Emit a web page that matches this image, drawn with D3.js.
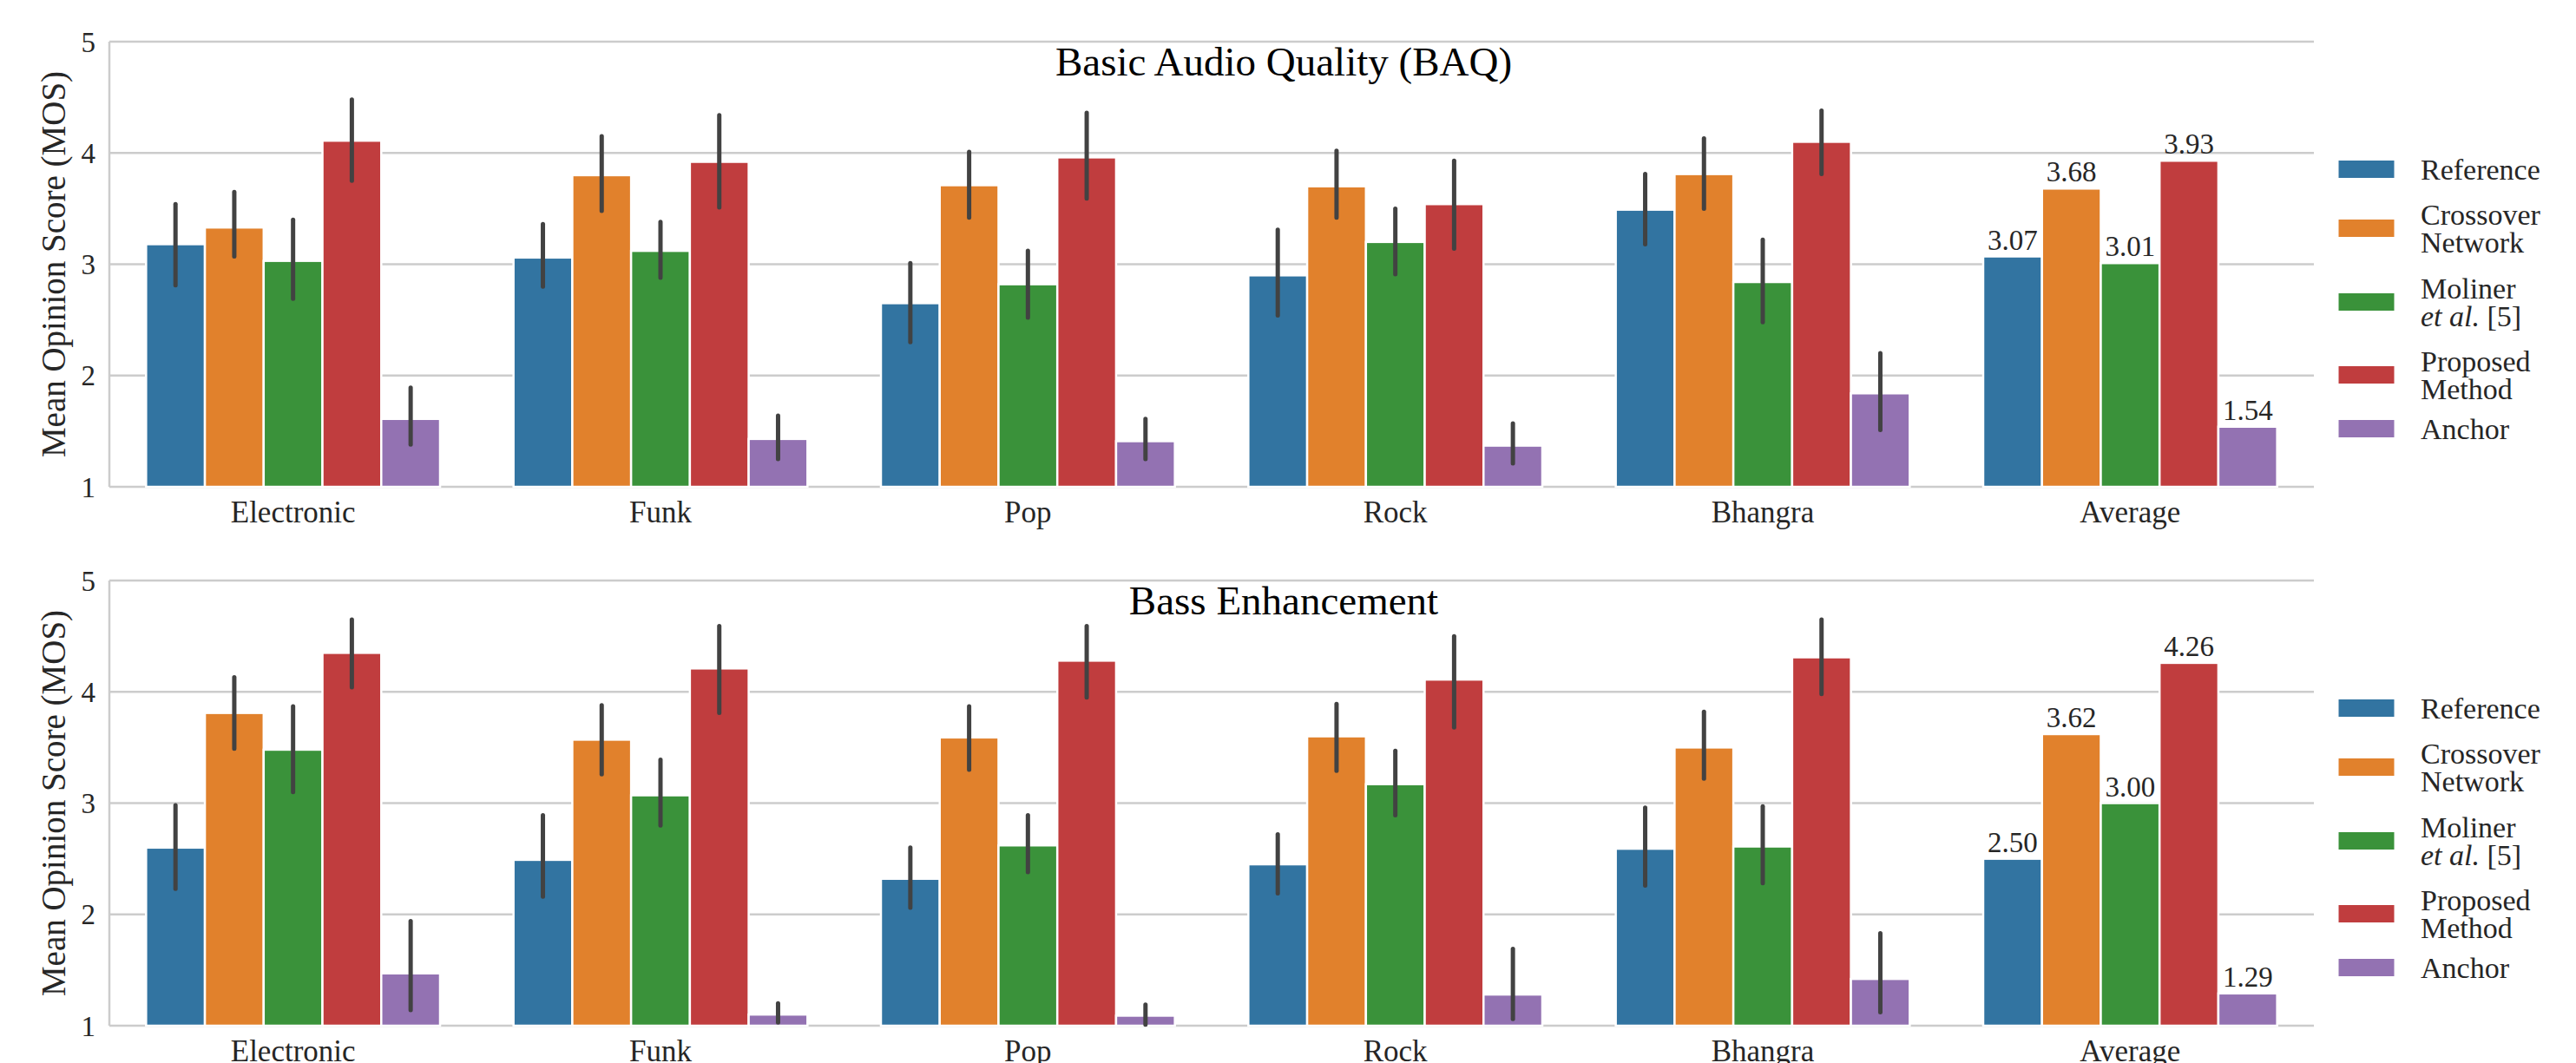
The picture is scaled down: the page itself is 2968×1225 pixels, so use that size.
<!DOCTYPE html>
<html>
<head>
<meta charset="utf-8">
<script src="https://cdn.jsdelivr.net/npm/d3@7"></script>
<style>
  body { margin: 0; background: #fff; }
  svg { display: block; }
  text { font-family: "Liberation Serif", "DejaVu Serif", serif; fill: #262626; }
</style>
</head>
<body>
<svg id="chart" width="2968" height="1225"></svg>
<script>
// categories and series
var categories = ["Electronic", "Funk", "Pop", "Rock", "Bhangra", "Average"]
var methods = ["Reference", "Crossover", "Moliner", "Proposed", "Anchor"]
var colors = ["#3274a1", "#e1812c", "#3a923a", "#c03d3e", "#9372b2"]
var yTicks = [1, 2, 3, 4, 5]

// Basic Audio Quality (BAQ) - means per method, one value per category
var baqReference = [3.18, 3.06, 2.65, 2.90, 3.49, 3.07]
var baqCrossover = [3.33, 3.80, 3.71, 3.70, 3.81, 3.68]
var baqMoliner   = [3.03, 3.12, 2.82, 3.20, 2.84, 3.01]
var baqProposed  = [4.11, 3.92, 3.96, 3.54, 4.10, 3.93]
var baqAnchor    = [1.61, 1.43, 1.41, 1.37, 1.84, 1.54]
// 95% CI (no interval on Average)
var baqLow = [
	[2.81, 2.80, 2.30, 2.54, 3.18],
	[3.07, 3.48, 3.42, 3.42, 3.50],
	[2.69, 2.88, 2.52, 2.91, 2.48],
	[3.75, 3.51, 3.59, 3.14, 3.81],
	[1.38, 1.25, 1.25, 1.21, 1.51]]
var baqHigh = [
	[3.54, 3.36, 3.01, 3.31, 3.81],
	[3.65, 4.15, 4.01, 4.02, 4.13],
	[3.40, 3.38, 3.12, 3.50, 3.22],
	[4.48, 4.34, 4.36, 3.93, 4.38],
	[1.89, 1.64, 1.61, 1.57, 2.20]]

// Bass Enhancement
var beReference = [2.60, 2.49, 2.32, 2.45, 2.59, 2.50]
var beCrossover = [3.81, 3.57, 3.59, 3.60, 3.50, 3.62]
var beMoliner   = [3.48, 3.07, 2.62, 3.17, 2.61, 3.00]
var beProposed  = [4.35, 4.21, 4.28, 4.11, 4.31, 4.26]
var beAnchor    = [1.47, 1.10, 1.09, 1.28, 1.42, 1.29]
var beLow = [
	[2.23, 2.16, 2.06, 2.19, 2.26],
	[3.49, 3.26, 3.30, 3.29, 3.22],
	[3.10, 2.80, 2.38, 2.89, 2.28],
	[4.04, 3.81, 3.95, 3.68, 3.98],
	[1.14, 1.03, 1.01, 1.06, 1.12]]
var beHigh = [
	[2.98, 2.89, 2.60, 2.72, 2.96],
	[4.13, 3.88, 3.87, 3.89, 3.82],
	[3.87, 3.39, 2.89, 3.47, 2.97],
	[4.65, 4.59, 4.59, 4.50, 4.65],
	[1.94, 1.20, 1.19, 1.69, 1.83]]

var panels = [
	{title: "Basic Audio Quality (BAQ)", top: 48,
	 series: [baqReference, baqCrossover, baqMoliner, baqProposed, baqAnchor], low: baqLow, high: baqHigh},
	{title: "Bass Enhancement", top: 669,
	 series: [beReference, beCrossover, beMoliner, beProposed, beAnchor], low: beLow, high: beHigh}
]

var svg = d3.select("#chart"),
	left = 126, right = 2666, height = 513

var xScale = d3.scaleBand()
	.domain(categories)
	.range([left, right])
	.paddingInner(0.2)
	.paddingOuter(0.1)

var xInner = d3.scaleBand()
	.domain(methods)
	.range([0, xScale.bandwidth()])

panels.forEach(function(p) {
	var yScale = d3.scaleLinear()
		.domain([1, 5])
		.range([p.top + height, p.top])

	var g = svg.append("g")

	// grid
	g.selectAll("line.grid")
		.data(yTicks)
		.enter().append("line")
			.attr("x1", left).attr("x2", right)
			.attr("y1", function(d) { return yScale(d) })
			.attr("y2", function(d) { return yScale(d) })
			.attr("stroke", "#cccccc")
			.attr("stroke-width", 2.5)

	// left spine
	g.append("line")
		.attr("x1", left).attr("x2", left)
		.attr("y1", yScale(1)).attr("y2", yScale(5))
		.attr("stroke", "#cccccc")
		.attr("stroke-width", 2.5)

	// y tick labels
	g.selectAll("text.ytick")
		.data(yTicks)
		.enter().append("text")
			.attr("x", left - 16)
			.attr("y", function(d) { return yScale(d) })
			.attr("dy", "0.35em")
			.attr("text-anchor", "end")
			.style("font-size", "33px")
			.text(function(d) { return d })

	// x tick labels
	g.selectAll("text.xtick")
		.data(categories)
		.enter().append("text")
			.attr("x", function(d) { return xScale(d) + xScale.bandwidth() / 2 })
			.attr("y", yScale(1) + 41)
			.attr("text-anchor", "middle")
			.style("font-size", "35px")
			.text(function(d) { return d })

	// y label
	g.append("text")
		.attr("transform", "translate(75," + (p.top + height / 2) + ") rotate(-90)")
		.attr("text-anchor", "middle")
		.style("font-size", "39px")
		.text("Mean Opinion Score (MOS)")

	// title
	g.append("text")
		.attr("x", 1479)
		.attr("y", p.top + 39)
		.attr("text-anchor", "middle")
		.style("font-size", "47px")
		.style("fill", "#000")
		.text(p.title)

	// bars
	p.series.forEach(function(vals, m) {
		var bars = vals.map(function(v, i) { return {cat: categories[i], v: v, i: i} })
		g.selectAll("rect.m" + m)
			.data(bars)
			.enter().append("rect")
				.attr("x", function(d) { return xScale(d.cat) + xInner(methods[m]) })
				.attr("y", function(d) { return yScale(d.v) })
				.attr("width", xInner.bandwidth())
				.attr("height", function(d) { return yScale(1) - yScale(d.v) })
				.attr("fill", colors[m])
				.attr("stroke", "#fff")
				.attr("stroke-width", 2.5)

		// error bars
		g.selectAll("line.err" + m)
			.data(p.low[m])
			.enter().append("line")
				.attr("x1", function(d, i) { return xScale(categories[i]) + xInner(methods[m]) + xInner.bandwidth() / 2 })
				.attr("x2", function(d, i) { return xScale(categories[i]) + xInner(methods[m]) + xInner.bandwidth() / 2 })
				.attr("y1", function(d) { return yScale(d) })
				.attr("y2", function(d, i) { return yScale(p.high[m][i]) })
				.attr("stroke", "#424242")
				.attr("stroke-width", 5)
				.attr("stroke-linecap", "round")

		// value label on Average
		var last = vals.length - 1
		g.append("text")
			.attr("x", xScale(categories[last]) + xInner(methods[m]) + xInner.bandwidth() / 2)
			.attr("y", yScale(vals[last]) - 8)
			.attr("text-anchor", "middle")
			.style("font-size", "33px")
			.text(vals[last].toFixed(2))
	})

	// legend
	var rowY = [147, 215, 300, 384, 446]
	var labels = [["Reference"], ["Crossover", "Network"], ["Moliner", "et al. [5]"], ["Proposed", "Method"], ["Anchor"]]
	var lg = g.append("g")
	labels.forEach(function(lines, m) {
		var cy = p.top + rowY[m]
		lg.append("rect")
			.attr("x", 2694).attr("y", cy - 10.5)
			.attr("width", 65).attr("height", 21)
			.attr("fill", colors[m])
			.attr("stroke", "#fff")
			.attr("stroke-width", 1)
		lines.forEach(function(t, k) {
			var ty = cy + (k - (lines.length - 1) / 2) * 32
			var txt = lg.append("text")
				.attr("x", 2789)
				.attr("y", ty)
				.attr("dy", "0.35em")
				.style("font-size", "34px")
			if (t == "et al. [5]") {
				txt.append("tspan").style("font-style", "italic").text("et al.")
				txt.append("tspan").text(" [5]")
			} else {
				txt.text(t)
			}
		})
	})
})
</script>
</body>
</html>
